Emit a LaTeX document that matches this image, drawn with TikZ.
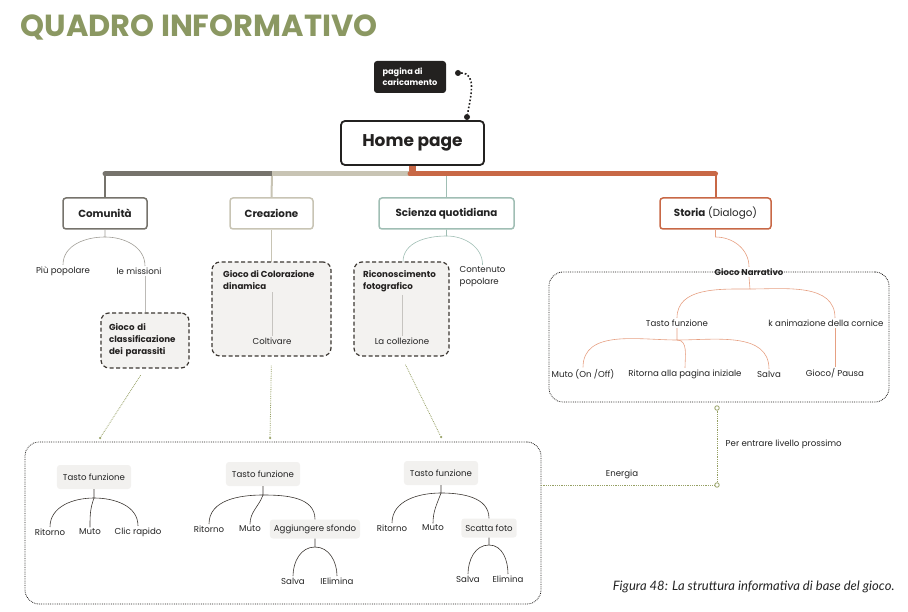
\documentclass[tikz,border=0pt]{standalone}
\usepackage{fontspec}
\setsansfont{Poppins}
\newfontfamily\captionfont{Lato}
\RequirePackage{xcolor}
\definecolor{titleolive}{RGB}{139,152,98}
\definecolor{nearblack}{RGB}{35,33,32}
\definecolor{trunkgray}{RGB}{118,115,108}
\definecolor{trunkbeige}{RGB}{200,196,180}
\definecolor{trunkteal}{RGB}{160,190,180}
\definecolor{trunkorange}{RGB}{200,104,70}
\definecolor{twigorange}{RGB}{230,160,130}
\definecolor{twiggray}{RGB}{160,157,150}
\definecolor{darkline}{RGB}{60,55,50}
\definecolor{linkolive}{RGB}{150,160,100}
\definecolor{boxgray}{RGB}{243,242,240}
\definecolor{chipgray}{RGB}{242,241,239}
\definecolor{labelgray}{RGB}{35,35,35}
\tikzset{every picture/.style={/utils/exec={\sffamily}}}
\usetikzlibrary{calc}
\usetikzlibrary{positioning}
\newcommand{\lblfont}{\fontsize{8.6}{10}\selectfont}
\newcommand{\boldlbl}{\fontsize{8.7}{12}\selectfont\bfseries}

\begin{document}
\begin{tikzpicture}[x=1pt,y=-1pt]
	 \useasboundingbox (0,0) rectangle (908,612);
	 \tikzstyle{topic}=[draw,line width=1.5pt,rounded corners=3pt,minimum height=31pt,fill=white,font=\fontsize{10.3}{12}\selectfont\bfseries,text=labelgray]
	 \tikzstyle{leaf}=[inner sep=1.5pt,font=\lblfont,text=labelgray]
	 \tikzstyle{chip}=[leaf,fill=chipgray,rounded corners=3pt,inner xsep=6pt,minimum height=24pt]
	 \tikzstyle{gamebox}=[draw=darkline,line width=1.2pt,dash pattern=on 4pt off 2.5pt,rounded corners=8pt,fill=boxgray]
	 \tikzstyle{group}=[draw=nearblack,densely dotted,line width=0.8pt,rounded corners=14pt]
	 \tikzstyle{twig}=[draw,line width=0.6pt]
	 \tikzstyle{bar}=[line width=5pt]
	 \tikzstyle{drop}=[line width=2pt]
	 \tikzstyle{link}=[draw=linkolive,densely dotted,line width=0.8pt]
	 \tikzstyle{tip}=[circle,fill=linkolive,inner sep=0pt,minimum size=2.5pt]
	 \tikzstyle{pin}=[circle,draw=linkolive,fill=white,line width=0.8pt,inner sep=0pt,minimum size=4.5pt]
	 % title and root
	 \node[anchor=west,font=\fontsize{30.5}{34}\selectfont\bfseries,text=titleolive] (title) at (17,27) {QUADRO INFORMATIVO};
	 \node[fill=nearblack,rounded corners=3pt,minimum width=72pt,minimum height=32pt,text=white,align=left,font=\fontsize{8.2}{11.5}\selectfont\bfseries] (loading) at (410,77) {pagina di\\caricamento};
	 \node[draw=nearblack,line width=1.8pt,rounded corners=4pt,minimum width=143pt,minimum height=44pt,font=\fontsize{17}{19}\selectfont\bfseries,text=nearblack] (home) at (412.5,143) {Home page};
	 \node[circle,fill=nearblack,inner sep=0pt,minimum size=6pt] (dotA) at (458,73) {};
	 \node[circle,fill=nearblack,inner sep=0pt,minimum size=6pt] (dotB) at (467,117) {};
	 \draw[nearblack,line width=1.6pt,dotted] (dotA) to[out=0,in=80] (dotB);
	 % main topics
	 \node[topic,draw=trunkgray,minimum width=84pt] (comunita) at (105,213.5) {Comunità};
	 \node[topic,draw=trunkbeige,minimum width=83pt] (creazione) at (271.5,213.5) {Creazione};
	 \node[topic,draw=trunkteal,minimum width=135pt] (scienza) at (446.5,213.5) {Scienza quotidiana};
	 \node[topic,draw=trunkorange,minimum width=111pt,font=\fontsize{10.3}{12}\selectfont] (storia) at (715.5,213.5) {\textbf{Storia} (Dialogo)};
	 \coordinate (barC) at (105,174);
	 \coordinate (barJ1) at (272,174);
	 \coordinate (barJ2) at (410,174);
	 \coordinate (barS) at (715.5,174);
	 \draw[line width=1pt,trunkteal] (scienza.north) -- (scienza.north |- barS);
	 \draw[drop,trunkgray] (comunita.north) -- (barC);
	 \draw[drop,trunkbeige] (creazione.north) -- (barJ1);
	 \draw[drop,trunkorange] (storia.north) -- (barS);
	 \draw[line width=7pt,trunkorange] (home.south) -- (home.south |- barJ2);
	 \draw[bar,trunkgray,line cap=round] (barC) -- (barJ1);
	 \draw[bar,trunkbeige] (barJ1) -- (barJ2);
	 \draw[bar,trunkorange,line cap=round] (barJ2) -- (barS);
	 % Comunita
	 \coordinate (comS) at (105,237);
	 \node[leaf] (popolare) at (63,271) {Più popolare};
	 \node[leaf] (missioni) at (139,271) {le missioni};
	 \node[gamebox,text width=72pt,align=left,inner xsep=8pt,minimum height=55pt,font=\boldlbl,text=nearblack] (classif) at (145,340.5) {Gioco di\\classificazione\\dei parassiti};
	 \draw[twig,twiggray] (comunita.south) -- (comS) to[out=180,in=90] (popolare.north);
	 \draw[twig,twiggray] (comS) to[out=0,in=90] (classif.north |- missioni.north);
	 \draw[twig,twiggray!70] (classif.north |- missioni.south) -- (classif.north);
	 % Creazione
	 \draw[twig,trunkbeige] (creazione.south) -- (271.5,262);
	 \node[gamebox,minimum width=119pt,minimum height=94pt] (colorbox) at (271.5,309) {};
	 \node[anchor=north west,align=left,inner sep=0pt,font=\boldlbl,text=nearblack] (colorazione) at (223,270) {Gioco di Colorazione\\dinamica};
	 \node[leaf] (coltivare) at (272,341) {Coltivare};
	 \draw[twig,twiggray!60,shorten <=3pt] (coltivare.north |- colorazione.south) -- (coltivare.north);
	 % Scienza quotidiana
	 \coordinate (sciS) at (446.5,236);
	 \node[leaf,anchor=north west,align=left,font=\fontsize{8.6}{12}\selectfont] (contenuto) at (458,265) {Contenuto\\popolare};
	 \draw[twig,trunkteal] (scienza.south) -- (sciS) to[out=180,in=90] (403,262);
	 \draw[twig,trunkteal] (sciS) to[out=0,in=90] (contenuto.north);
	 \node[gamebox,minimum width=95pt,minimum height=94pt] (fotobox) at (401.5,309) {};
	 \node[anchor=north west,align=left,inner sep=0pt,font=\boldlbl,text=nearblack] (riconoscimento) at (363,270) {Riconoscimento\\fotografico};
	 \node[leaf] (collezione) at (402,341) {La collezione};
	 \draw[twig,twiggray!60,shorten <=3pt] (collezione.north |- riconoscimento.south) -- (collezione.north);
	 % Storia
	 \node[group,minimum width=340pt,minimum height=130pt] (narrbox) at (719,337) {};
	 \coordinate (stoS) at (715.5,237);
	 \node[leaf,font=\fontsize{8.5}{10}\selectfont\bfseries] (narrativo) at (749,272) {Gioco Narrativo};
	 \draw[twig,twigorange] (storia.south) -- (stoS) to[out=0,in=90] (narrativo.north);
	 \coordinate (narS) at (750,289);
	 \node[leaf] (tasto0) at (677,323) {Tasto funzione};
	 \node[leaf] (cornice) at (826,323) {k animazione della cornice};
	 \node[leaf] (mutoN) at (583,374) {Muto (On /Off)};
	 \node[leaf] (ritorna) at (685,374) {Ritorna alla pagina iniziale};
	 \node[leaf] (salvaN) at (769,374) {Salva};
	 \node[leaf] (pausa) at (835,373) {Gioco/ Pausa};
	 \draw[twig,twigorange] (narrativo.south) -- (narS) to[out=180,in=90] (tasto0.north);
	 \draw[twig,twigorange] (narS) to[out=0,in=90] (pausa.north |- cornice.north);
	 \coordinate (tastoS) at (677,340);
	 \draw[twig,twigorange] (tasto0.south) -- (tastoS) to[out=180,in=90] (mutoN.north);
	 \draw[twig,twigorange] (tastoS) to[out=0,in=90] (ritorna.north);
	 \draw[twig,twigorange] (tastoS) to[out=0,in=90] (salvaN.north);
	 \draw[twig,twigorange] (pausa.north |- cornice.south) -- (pausa.north);
	 % links to the games
	 \node[group,minimum width=516pt,minimum height=162pt] (giochi) at (283,523) {};
	 \node[tip] (dropA) at (100,438) {};
	 \node[tip] (dropB) at (270,438) {};
	 \node[tip] (dropC) at (441,437) {};
	 \draw[link,shorten <=8pt] (classif.south) -- (dropA);
	 \draw[link,shorten <=9pt] (colorbox.south) -- (dropB);
	 \draw[link,shorten <=9pt] (fotobox.south) -- (dropC);
	 \node[pin] (pinA) at (717,408) {};
	 \node[pin] (pinB) at (717,485) {};
	 \draw[link] (pinA) -- (pinB) -- (pinB -| giochi.east);
	 \node[leaf,anchor=west] (prossimo) at (724,444) {Per entrare livello prossimo};
	 \node[leaf] (energia) at (622,474) {Energia};
	 % tree 1
	 \node[chip] (tasto1) at (94,477) {Tasto funzione};
	 \coordinate (t1S) at (94,498);
	 \node[leaf] (ritorno1) at (50,532) {Ritorno};
	 \node[leaf] (muto1) at (90,532) {Muto};
	 \node[leaf] (clic) at (138,532) {Clic rapido};
	 \draw[twig,darkline] (tasto1.south) -- (t1S) to[out=180,in=90] (ritorno1.north);
	 \draw[twig,darkline] (t1S) to[out=-110,in=90] (muto1.north);
	 \draw[twig,darkline] (t1S) to[out=0,in=90] (clic.north);
	 % tree 2
	 \node[chip] (tasto2) at (263,474) {Tasto funzione};
	 \coordinate (t2S) at (263,495);
	 \node[leaf] (ritorno2) at (209,529) {Ritorno};
	 \node[leaf] (muto2) at (250,529) {Muto};
	 \node[chip,minimum height=19pt,inner xsep=4pt] (sfondo) at (315,529) {Aggiungere sfondo};
	 \draw[twig,darkline] (tasto2.south) -- (t2S) to[out=180,in=90] (ritorno2.north);
	 \draw[twig,darkline] (t2S) to[out=-110,in=90] (muto2.north);
	 \draw[twig,darkline] (t2S) to[out=0,in=90] (sfondo.north);
	 \coordinate (t2T) at (315,547);
	 \node[leaf] (salva2) at (293,581) {Salva};
	 \node[leaf] (elimina2) at (337,581) {IElimina};
	 \draw[twig,darkline] (sfondo.south) -- (t2T) to[out=180,in=90] (salva2.north);
	 \draw[twig,darkline] (t2T) to[out=0,in=90] (elimina2.north);
	 % tree 3
	 \node[chip] (tasto3) at (441,473) {Tasto funzione};
	 \coordinate (t3S) at (441,493);
	 \node[leaf] (ritorno3) at (392,528) {Ritorno};
	 \node[leaf] (muto3) at (433,528) {Muto};
	 \node[chip,minimum height=19pt,inner xsep=4pt] (scatta) at (489,528) {Scatta foto};
	 \draw[twig,darkline] (tasto3.south) -- (t3S) to[out=180,in=90] (ritorno3.north);
	 \draw[twig,darkline] (t3S) to[out=-110,in=90] (muto3.north);
	 \draw[twig,darkline] (t3S) to[out=0,in=90] (scatta.north);
	 \coordinate (t3T) at (489,545);
	 \node[leaf] (salva3) at (468,579) {Salva};
	 \node[leaf] (elimina3) at (508,579) {Elimina};
	 \draw[twig,darkline] (scatta.south) -- (t3T) to[out=180,in=90] (salva3.north);
	 \draw[twig,darkline] (t3T) to[out=0,in=90] (elimina3.north);
	 % caption
	 \node[anchor=east,font=\captionfont\itshape\fontsize{13}{15}\selectfont,text=labelgray] (caption) at (898,587) {Figura 48: La struttura informativa di base del gioco.};
\end{tikzpicture}
\end{document}
